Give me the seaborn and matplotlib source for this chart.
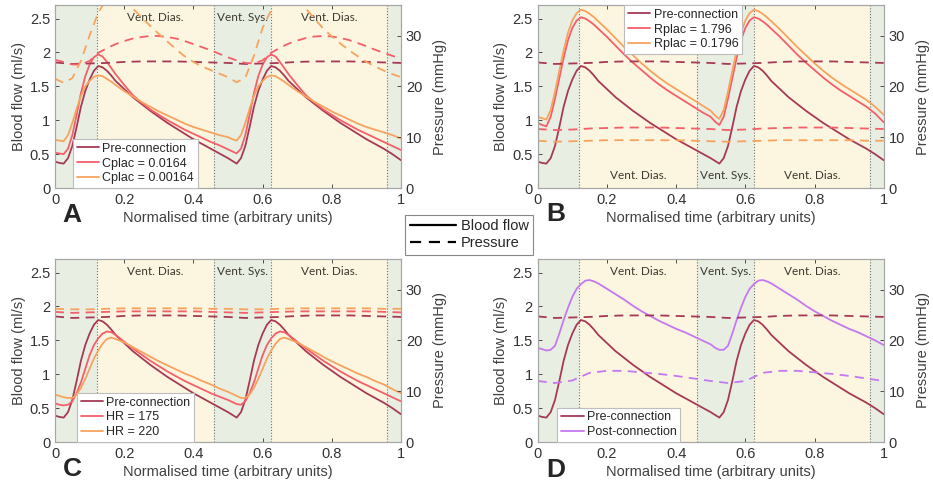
import matplotlib
matplotlib.use('Agg')
import matplotlib.pyplot as plt
import seaborn as sns
from matplotlib.lines import Line2D
from matplotlib.ticker import FuncFormatter

sns.set_style('ticks')
plt.rcParams['font.family'] = ['Liberation Sans', 'DejaVu Sans']

# time grids (normalised); finer around the systolic upstroke
T = [0, 0.0125, 0.025, 0.0375, 0.05, 0.0625, 0.075, 0.0875, 0.1, 0.1125, 0.125, 0.1375, 0.15,
     0.1625, 0.175,
     0.2, 0.225, 0.25, 0.275, 0.3, 0.325, 0.35, 0.375, 0.4, 0.425, 0.45, 0.475, 0.5,
     0.5125, 0.525, 0.5375, 0.55, 0.5625, 0.575, 0.5875, 0.6, 0.6125, 0.625, 0.6375, 0.65,
     0.6625, 0.675,
     0.7, 0.725, 0.75, 0.775, 0.8, 0.825, 0.85, 0.875, 0.9, 0.925, 0.95, 0.975, 1.0]
T_CP = [0, 0.025, 0.05, 0.075, 0.1, 0.125, 0.15, 0.175, 0.2, 0.225, 0.25, 0.275, 0.3, 0.325,
        0.35, 0.375, 0.4, 0.425, 0.45, 0.475, 0.5, 0.525, 0.55, 0.575, 0.6, 0.625, 0.65, 0.675,
        0.7, 0.725, 0.75, 0.775, 0.8, 0.825, 0.85, 0.875, 0.9, 0.925, 0.95, 0.975, 1.0]
T_P = [0, 0.05, 0.1, 0.15, 0.2, 0.25, 0.3, 0.35, 0.4, 0.45, 0.5, 0.55, 0.6, 0.65, 0.7,
       0.75, 0.8, 0.85, 0.9, 0.95, 1.0]

# blood flow (ml/s), on T
FLOW_PRE = [0.39, 0.37, 0.36, 0.44, 0.62, 0.90, 1.20, 1.43, 1.60, 1.73, 1.80, 1.78, 1.73, 1.66, 1.58,
            1.46, 1.34, 1.24, 1.14, 1.05, 0.96, 0.88, 0.80, 0.72, 0.65, 0.58, 0.51, 0.44,
            0.40, 0.36, 0.44, 0.62, 0.90, 1.20, 1.43, 1.60, 1.73, 1.80, 1.78, 1.73, 1.66, 1.58,
            1.46, 1.34, 1.24, 1.14, 1.05, 0.96, 0.88, 0.80, 0.72, 0.65, 0.58, 0.50, 0.41]
FLOW_CPLAC_HI = [0.52, 0.51, 0.50, 0.58, 0.78, 1.08, 1.40, 1.65, 1.82, 1.93, 1.97, 1.94, 1.86, 1.77, 1.68,
                 1.52, 1.37, 1.26, 1.16, 1.08, 1.00, 0.93, 0.86, 0.80, 0.74, 0.68, 0.63, 0.57,
                 0.54, 0.51, 0.58, 0.78, 1.08, 1.40, 1.65, 1.82, 1.93, 1.97, 1.94, 1.86, 1.77, 1.68,
                 1.52, 1.37, 1.26, 1.16, 1.08, 1.00, 0.93, 0.86, 0.80, 0.74, 0.68, 0.62, 0.56]
FLOW_CPLAC_LO = [0.71, 0.70, 0.69, 0.78, 0.96, 1.17, 1.36, 1.50, 1.58, 1.64, 1.66, 1.65, 1.61, 1.57, 1.52,
                 1.43, 1.35, 1.27, 1.20, 1.13, 1.07, 1.01, 0.95, 0.90, 0.86, 0.82, 0.78, 0.75,
                 0.72, 0.70, 0.78, 0.96, 1.17, 1.36, 1.50, 1.58, 1.64, 1.66, 1.65, 1.61, 1.57, 1.52,
                 1.43, 1.35, 1.27, 1.20, 1.13, 1.07, 1.01, 0.95, 0.90, 0.86, 0.82, 0.78, 0.73]
FLOW_RPLAC_HI = [0.96, 0.93, 0.91, 1.05, 1.32, 1.62, 1.92, 2.18, 2.36, 2.47, 2.52, 2.50, 2.46, 2.41, 2.35,
                 2.23, 2.10, 1.97, 1.85, 1.74, 1.63, 1.53, 1.44, 1.36, 1.28, 1.20, 1.12, 1.05,
                 0.98, 0.93, 1.05, 1.32, 1.62, 1.92, 2.18, 2.36, 2.47, 2.52, 2.50, 2.46, 2.41, 2.35,
                 2.23, 2.10, 1.97, 1.85, 1.74, 1.63, 1.53, 1.44, 1.36, 1.28, 1.20, 1.10, 0.97]
FLOW_RPLAC_LO = [1.05, 1.03, 1.01, 1.15, 1.42, 1.73, 2.03, 2.29, 2.47, 2.58, 2.63, 2.61, 2.57, 2.52, 2.46,
                 2.34, 2.21, 2.08, 1.96, 1.84, 1.73, 1.63, 1.54, 1.46, 1.38, 1.30, 1.22, 1.14,
                 1.07, 1.02, 1.15, 1.42, 1.73, 2.03, 2.29, 2.47, 2.58, 2.63, 2.61, 2.57, 2.52, 2.46,
                 2.34, 2.21, 2.08, 1.96, 1.84, 1.73, 1.63, 1.54, 1.46, 1.38, 1.30, 1.20, 1.08]
FLOW_HR175 = [0.57, 0.55, 0.54, 0.55, 0.60, 0.72, 0.88, 1.08, 1.28, 1.43, 1.53, 1.60, 1.63, 1.62, 1.58,
              1.48, 1.38, 1.29, 1.20, 1.12, 1.04, 0.97, 0.90, 0.84, 0.78, 0.72, 0.67, 0.62,
              0.59, 0.56, 0.55, 0.60, 0.72, 0.88, 1.08, 1.28, 1.43, 1.53, 1.60, 1.63, 1.62, 1.58,
              1.48, 1.38, 1.29, 1.20, 1.12, 1.04, 0.97, 0.90, 0.84, 0.78, 0.72, 0.66, 0.60]
FLOW_HR220 = [0.70, 0.68, 0.66, 0.65, 0.65, 0.70, 0.80, 0.93, 1.08, 1.23, 1.35, 1.45, 1.52, 1.54, 1.52,
              1.47, 1.40, 1.33, 1.26, 1.19, 1.13, 1.07, 1.01, 0.96, 0.90, 0.85, 0.79, 0.74,
              0.71, 0.68, 0.65, 0.65, 0.70, 0.80, 0.93, 1.08, 1.23, 1.35, 1.45, 1.52, 1.54, 1.52,
              1.47, 1.40, 1.33, 1.26, 1.19, 1.13, 1.07, 1.01, 0.96, 0.90, 0.85, 0.78, 0.72]
FLOW_POST = [1.39, 1.37, 1.35, 1.36, 1.42, 1.60, 1.80, 1.98, 2.14, 2.26, 2.33, 2.38, 2.39, 2.37, 2.34,
             2.26, 2.18, 2.10, 2.01, 1.93, 1.86, 1.79, 1.73, 1.67, 1.62, 1.56, 1.50, 1.44,
             1.39, 1.36, 1.36, 1.42, 1.60, 1.80, 1.98, 2.14, 2.26, 2.33, 2.38, 2.39, 2.37, 2.34,
             2.26, 2.18, 2.10, 2.01, 1.93, 1.86, 1.79, 1.73, 1.67, 1.62, 1.56, 1.50, 1.43]

# pressure (mmHg)
P_CPLAC_HI = [25.2, 24.8, 24.3, 24.3, 25.0, 26.6, 27.5, 28.3, 28.9, 29.4, 29.7, 29.9, 29.9,
              29.7, 29.4, 28.9, 28.3, 27.7, 27.1, 26.4, 25.7, 25.1, 24.6, 24.5, 25.1, 26.6,
              27.6, 28.4, 29.0, 29.5, 29.8, 29.9, 29.8, 29.5, 29.1, 28.5, 27.9, 27.2, 26.6,
              26.0, 25.5]  # on T_CP
P_CPLAC_LO = [21.5, 20.7, 21.6, 25.0, 30.0, 34.5, 37.3, 38.0, 37.0, 35.3, 33.6, 31.9, 30.3,
              28.8, 27.3, 25.9, 24.8, 23.9, 23.2, 22.5, 21.8, 20.8, 21.7, 26.0, 31.5, 35.0,
              37.3, 38.0, 37.0, 35.3, 33.3, 31.4, 29.8, 28.4, 27.1, 25.9, 24.8, 23.9, 23.1,
              22.4, 21.8]  # on T_CP
P_PRE = [24.7, 24.4, 24.5, 24.6, 24.8, 24.9, 24.9, 24.9, 24.8, 24.7, 24.6, 24.4, 24.5, 24.6,
         24.8, 24.9, 24.9, 24.9, 24.8, 24.7, 24.6]
P_RPLAC_HI = [11.6, 11.4, 11.5, 11.7, 11.8, 11.9, 11.9, 11.9, 11.8, 11.7, 11.6, 11.4, 11.5,
              11.7, 11.8, 11.9, 11.9, 11.9, 11.8, 11.7, 11.6]
P_RPLAC_LO = [9.3, 9.1, 9.2, 9.3, 9.4, 9.4, 9.4, 9.4, 9.4, 9.3, 9.2, 9.1, 9.2, 9.3, 9.4, 9.4,
              9.4, 9.4, 9.4, 9.3, 9.3]
P_HR175 = [25.6, 25.4, 25.5, 25.6, 25.7, 25.7, 25.7, 25.7, 25.7, 25.6, 25.5, 25.4, 25.5, 25.6,
           25.7, 25.7, 25.7, 25.7, 25.7, 25.6, 25.5]
P_HR220 = [26.2, 26.1, 26.1, 26.2, 26.3, 26.3, 26.3, 26.3, 26.3, 26.2, 26.2, 26.1, 26.1, 26.2,
           26.3, 26.3, 26.3, 26.3, 26.3, 26.2, 26.2]
P_POST = [12.0, 11.6, 12.1, 13.6, 14.0, 14.0, 13.7, 13.4, 13.0, 12.5, 12.0, 11.6, 12.0, 13.6,
          14.0, 14.0, 13.7, 13.4, 13.0, 12.5, 12.0]

# cardiac phases
PHASE_EDGES = [0, 0.12, 0.46, 0.625, 0.96, 1.0]
PHASE_NAMES = ['', 'Vent. Dias.', 'Vent. Sys.', 'Vent. Dias.', '']

C_PRE = '#a63a55'
C_RED = '#f45f69'
C_ORANGE = '#f7a35e'
C_POST = '#c678f0'
GREEN = '#e8efe2'
YELLOW = '#fcf5e0'
PHASE_FILL = [GREEN, YELLOW, GREEN, YELLOW, GREEN]
GREY = '#333333'

W, H = 933, 491
fig = plt.figure(figsize=(W / 100, H / 100), dpi=100)

fmt = FuncFormatter(lambda v, p: f'{v:g}')


def panel(rect, flows, pressures, labels, letter, leg_anchor, leg_loc, text_top):
    ax = fig.add_axes(rect)
    ax2 = ax.twinx()
    for i in range(len(PHASE_FILL)):
        ax.axvspan(PHASE_EDGES[i], PHASE_EDGES[i + 1], color=PHASE_FILL[i], lw=0, zorder=0)
        mid = (PHASE_EDGES[i] + PHASE_EDGES[i + 1]) / 2
        if PHASE_NAMES[i]:
            ax.text(mid, 0.93 if text_top else 0.07, PHASE_NAMES[i], transform=ax.get_xaxis_transform(),
                    ha='center', va='center', fontsize=8.5, family=['Lato', 'DejaVu Sans'], color='#3d3a2e')
    for x in PHASE_EDGES[1:-1]:
        ax.axvline(x, color='#707070', ls=(0, (1, 1.6)), lw=0.8, zorder=1)

    handles = []
    for vals, col in flows:
        sns.lineplot(x=T, y=vals, ax=ax, color=col, lw=1.3, sort=False, estimator=None, legend=False)
        handles.append(ax.lines[-1])
    for tt, vals, col in pressures:
        sns.lineplot(x=tt, y=vals, ax=ax2, color=col, lw=1.3, sort=False, estimator=None, legend=False,
                     linestyle=(0, (5, 3.5)))

    ax.set_xlim(0, 1)
    ax.set_ylim(0, 2.7)
    ax2.set_ylim(0, 36)
    ax.set_xticks([0, 0.2, 0.4, 0.6, 0.8, 1])
    ax.set_yticks([0, 0.5, 1, 1.5, 2, 2.5])
    ax2.set_yticks([0, 10, 20, 30])
    ax.xaxis.set_major_formatter(fmt)
    ax.yaxis.set_major_formatter(fmt)
    for a in (ax, ax2):
        a.tick_params(direction='in', length=3, labelsize=10.5, colors=GREY, width=0.6)
        for s in a.spines.values():
            s.set_color('#a6a6a6')
            s.set_linewidth(0.8)
        a.tick_params(axis='both', labelcolor=GREY)
    ax.tick_params(top=True)
    ax.set_xlabel('Normalised time (arbitrary units)', fontsize=10.5, color='#404040', labelpad=3)
    ax.set_ylabel('Blood flow (ml/s)', fontsize=10.5, color='#404040', labelpad=3)
    ax2.set_ylabel('Pressure (mmHg)', fontsize=10.5, color='#404040', labelpad=8)

    leg = ax2.legend(handles, labels, loc=leg_loc, bbox_to_anchor=leg_anchor, fontsize=9,
                     frameon=True, fancybox=False, framealpha=1, edgecolor='#bdbdbd',
                     handlelength=1.8, handletextpad=0.25, borderpad=0.3, labelspacing=0.22,
                     borderaxespad=0)
    leg.get_frame().set_linewidth(0.8)
    for txt in leg.get_texts():
        txt.set_color('#262626')

    fig.text(letter[1], letter[2], letter[0], fontsize=19, fontweight='bold', ha='center', va='center')
    return ax


aw, ah = 346 / W, 183 / H
xl, xr = 55 / W, 537.7 / W
yt, yb = 1 - 188 / H, 1 - 442 / H

panel([xl, yt, aw, ah],
      [(FLOW_PRE, C_PRE), (FLOW_CPLAC_HI, C_RED), (FLOW_CPLAC_LO, C_ORANGE)],
      [(T_P, P_PRE, C_PRE), (T_CP, P_CPLAC_HI, C_RED), (T_CP, P_CPLAC_LO, C_ORANGE)],
      ['Pre-connection', 'Cplac = 0.0164', 'Cplac = 0.00164'],
      ('A', 72 / W, 1 - 215 / H), (0.052, 0.0), 'lower left', True)

panel([xr, yt, aw, ah],
      [(FLOW_PRE, C_PRE), (FLOW_RPLAC_HI, C_RED), (FLOW_RPLAC_LO, C_ORANGE)],
      [(T_P, P_PRE, C_PRE), (T_P, P_RPLAC_HI, C_RED), (T_P, P_RPLAC_LO, C_ORANGE)],
      ['Pre-connection', 'Rplac = 1.796', 'Rplac = 0.1796'],
      ('B', 556 / W, 1 - 214 / H), (0.25, 1.0), 'upper left', False)

panel([xl, yb, aw, ah],
      [(FLOW_PRE, C_PRE), (FLOW_HR175, C_RED), (FLOW_HR220, C_ORANGE)],
      [(T_P, P_PRE, C_PRE), (T_P, P_HR175, C_RED), (T_P, P_HR220, C_ORANGE)],
      ['Pre-connection', 'HR = 175', 'HR = 220'],
      ('C', 72 / W, 1 - 469 / H), (0.063, 0.0), 'lower left', True)

panel([xr, yb, aw, ah],
      [(FLOW_PRE, C_PRE), (FLOW_POST, C_POST)],
      [(T_P, P_PRE, C_PRE), (T_P, P_POST, C_POST)],
      ['Pre-connection', 'Post-connection'],
      ('D', 556 / W, 1 - 470 / H), (0.057, 0.0), 'lower left', True)

key = [Line2D([], [], color='black', lw=1.6), Line2D([], [], color='black', lw=1.6, ls=(0, (5, 3.5)))]
gl = fig.legend(key, ['Blood flow', 'Pressure'], loc='center', bbox_to_anchor=(0.503, 0.522),
                fontsize=10.5, frameon=True, fancybox=False, framealpha=1, edgecolor='#888888',
                handlelength=3.2, handletextpad=0.3, borderpad=0.3, labelspacing=0.2)
gl.get_frame().set_linewidth(0.8)

fig.savefig('out.png', dpi=100)
